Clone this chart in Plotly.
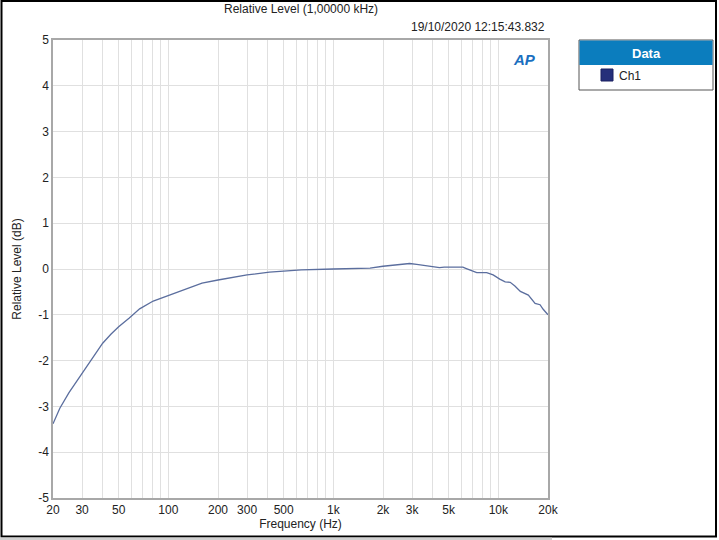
import plotly.graph_objects as go

# measured response, Ch1
freq_hz = [20, 22, 25, 30, 35, 40, 45, 50, 58, 67, 81, 100, 120, 140, 160, 200,
           240, 300, 410, 510, 640, 1000, 1670, 2000, 2400, 2900, 3200, 3800,
           4400, 4700, 6100, 6400, 7200, 7400, 8500, 9300, 10200, 11000, 11800,
           12600, 13600, 14500, 15200, 16700, 17900, 18700, 20000]
level_db = [-3.38, -3.04, -2.70, -2.28, -1.90, -1.62, -1.42, -1.26, -1.07, -0.87,
            -0.70, -0.58, -0.47, -0.38, -0.31, -0.24, -0.19, -0.13, -0.07, -0.04,
            -0.02, 0.00, 0.02, 0.06, 0.09, 0.12, 0.10, 0.06, 0.03, 0.04, 0.04,
            0.01, -0.06, -0.08, -0.08, -0.13, -0.22, -0.28, -0.29, -0.37, -0.49,
            -0.53, -0.57, -0.75, -0.78, -0.88, -1.00]

grid_freqs = [20, 30, 40, 50, 60, 70, 80, 90, 100, 200, 300, 400, 500, 600, 700,
              800, 900, 1000, 2000, 3000, 4000, 5000, 6000, 7000, 8000, 9000,
              10000, 20000]
tick_labels = {20: "20", 30: "30", 50: "50", 100: "100", 200: "200", 300: "300",
               500: "500", 1000: "1k", 2000: "2k", 3000: "3k", 5000: "5k",
               10000: "10k", 20000: "20k"}
level_ticks = [-5, -4, -3, -2, -1, 0, 1, 2, 3, 4, 5]

FONT = "Segoe UI, Liberation Sans, Arial, sans-serif"
W, H = 719, 540
L, R, T, B = 53, 548, 40, 498


def px(x):
    return (x - L) / (R - L)


def py(y):
    return (B - y) / (B - T)


fig = go.Figure()
fig.add_trace(go.Scatter(x=freq_hz, y=level_db, mode="lines", name="Ch1",
                         line=dict(color="#5b6e9e", width=1.3)))

fig.update_xaxes(type="log", range=[1.30103, 4.30103],
                 tickvals=grid_freqs,
                 ticktext=[tick_labels.get(f, "") for f in grid_freqs],
                 showgrid=True, gridcolor="#e0e0e0", gridwidth=1,
                 showline=True, linecolor="#a8a8a8", linewidth=1.5, mirror=True,
                 ticks="", tickfont=dict(size=12, color="#222", family=FONT),
                 title=dict(text="Frequency (Hz)", standoff=2,
                            font=dict(size=12, color="#222", family=FONT)),
                 zeroline=False)
fig.update_yaxes(range=[-5, 5], tickvals=level_ticks,
                 ticktext=[str(v) for v in level_ticks],
                 showgrid=True, gridcolor="#e0e0e0", gridwidth=1,
                 showline=True, linecolor="#a8a8a8", linewidth=1.5, mirror=True,
                 ticks="", tickfont=dict(size=12, color="#222", family=FONT),
                 title=dict(text="Relative Level (dB)", standoff=14,
                            font=dict(size=12, color="#222", family=FONT)),
                 zeroline=False)

shapes = [
    # outer frame
    dict(type="rect", xref="paper", yref="paper", x0=px(1.5), x1=px(716),
         y0=py(536.5), y1=py(1), line=dict(color="black", width=2),
         fillcolor="rgba(0,0,0,0)"),
    dict(type="rect", xref="paper", yref="paper", x0=px(0), x1=px(552),
         y0=py(540), y1=py(537.5), line=dict(width=0), fillcolor="#d0d0d0"),
    # legend box
    dict(type="rect", xref="paper", yref="paper", x0=px(579), x1=px(713),
         y0=py(90), y1=py(40), line=dict(color="#555555", width=1),
         fillcolor="white"),
    dict(type="rect", xref="paper", yref="paper", x0=px(579.5), x1=px(712.5),
         y0=py(65), y1=py(40.5), line=dict(width=0), fillcolor="#0b7dbe"),
    dict(type="rect", xref="paper", yref="paper", x0=px(601), x1=px(613),
         y0=py(81), y1=py(69), line=dict(color="#1b2060", width=1),
         fillcolor="#252f7a"),
]

annotations = [
    dict(text="Relative Level (1,00000 kHz)", xref="paper", yref="paper",
         x=px(301), y=py(9), xanchor="center", yanchor="middle", showarrow=False,
         font=dict(size=12, color="#222", family=FONT)),
    dict(text="19/10/2020 12:15:43.832", xref="paper", yref="paper",
         x=px(547), y=py(27), xanchor="right", yanchor="middle", showarrow=False,
         font=dict(size=12, color="#222", family=FONT)),
    dict(text="<b><i>AP</i></b>", xref="paper", yref="paper",
         x=px(524), y=py(59), xanchor="center", yanchor="middle", showarrow=False,
         font=dict(size=15, color="#1a6fc0", family=FONT)),
    dict(text="<b>Data</b>", xref="paper", yref="paper",
         x=px(646), y=py(53), xanchor="center", yanchor="middle", showarrow=False,
         font=dict(size=13, color="white", family=FONT)),
    dict(text="Ch1", xref="paper", yref="paper",
         x=px(617), y=py(76), xanchor="left", yanchor="middle", showarrow=False,
         font=dict(size=12, color="#222", family=FONT)),
]

fig.update_layout(width=W, height=H, showlegend=False,
                  margin=dict(l=L, r=W - R, t=T, b=H - B),
                  plot_bgcolor="white", paper_bgcolor="white",
                  shapes=shapes, annotations=annotations)

# page margin would push the fixed-size figure off by 8px
fig.write_html("out.html", config={"displayModeBar": False},
               post_script="document.body.style.margin='0px';")
